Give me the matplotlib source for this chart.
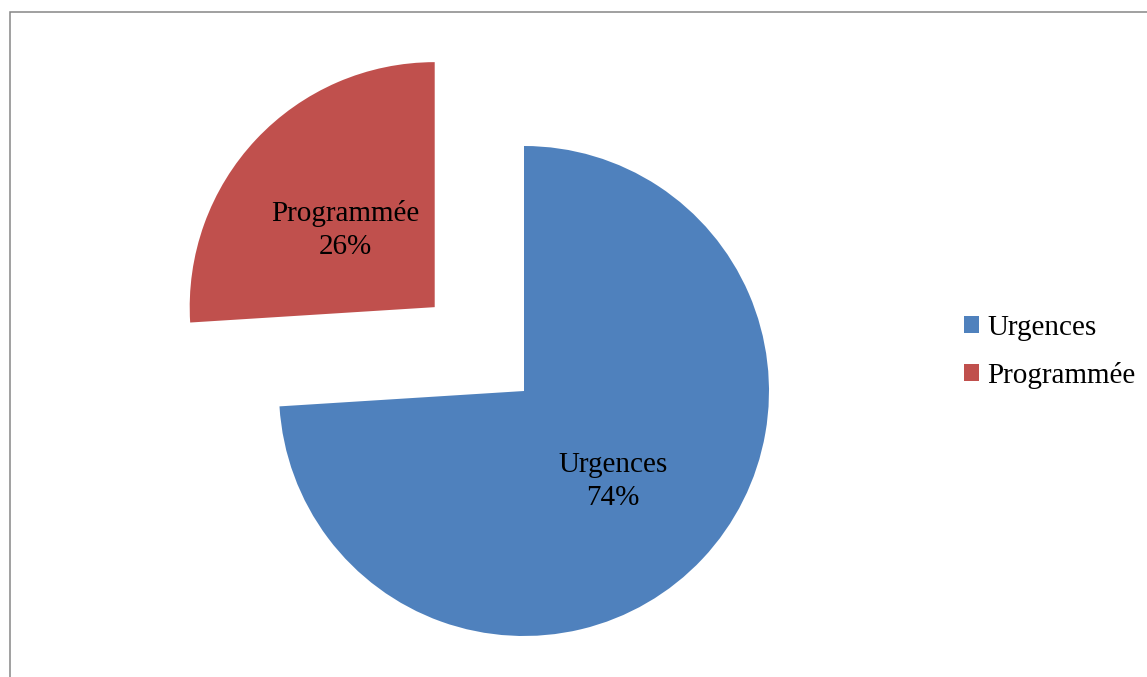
import matplotlib.pyplot as plt
from matplotlib.patches import Rectangle, Patch

# Répartition des interventions
categories = ["Urgences", "Programmée"]
values = [74, 26]
colors = ["#4F81BD", "#C0504D"]

plt.rcParams['font.family'] = ['Liberation Serif', 'DejaVu Serif']

W, H = 1147, 677
R = 245
fig = plt.figure(figsize=(W / 100, H / 100), dpi=100)
ax = fig.add_axes([0, 0, 1, 1])

# cadre du graphique
ax.add_patch(Rectangle((10, -20), 1300, H - 12 + 20, fill=False,
                       edgecolor="#868686", linewidth=1.1))

labels = [f"{c}\n{v}%" for c, v in zip(categories, values)]
wedges, texts = ax.pie(values, labels=labels, colors=colors,
                       explode=[0, 0.5 * R], startangle=90, counterclock=False,
                       center=(524, H - 391), radius=R,
                       labeldistance=0.5, frame=True,
                       wedgeprops=dict(linewidth=0),
                       textprops=dict(fontsize=21, linespacing=1.38))
for t in texts:
    t.set_horizontalalignment('center')
    t.set_verticalalignment('center_baseline')
ax.set_xlim(0, W)
ax.set_ylim(0, H)
ax.set_aspect('equal')
ax.axis('off')

handles = [Patch(facecolor=c, edgecolor='none') for c in colors]
ax.legend(handles, categories, loc='center left',
          bbox_to_anchor=(964 / W, (H - 352) / H), bbox_transform=fig.transFigure,
          frameon=False, fontsize=21, handlelength=0.5, handleheight=0.5,
          handletextpad=0.3, labelspacing=0.72, borderpad=0, borderaxespad=0)

fig.savefig("out.png", dpi=100)
